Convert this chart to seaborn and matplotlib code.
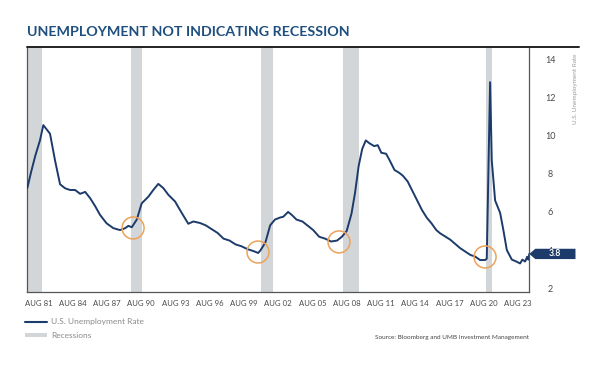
import numpy as np
import pandas as pd
import matplotlib
matplotlib.use("Agg")
import matplotlib.pyplot as plt
import seaborn as sns
from matplotlib.lines import Line2D
from matplotlib.patches import Patch, Polygon
import matplotlib.transforms as mtransforms

# ---------------- data ----------------
years = [1981.58, 1981.90, 1982.25, 1982.64, 1982.92, 1983.48, 1983.90, 1984.32, 1984.74,
         1985.16, 1985.58, 1986.00, 1986.42, 1986.84, 1987.26, 1987.66, 1988.22, 1988.78,
         1989.34, 1989.77, 1990.03, 1990.32, 1990.74, 1991.15, 1991.71, 1992.12, 1992.54,
         1992.96, 1993.38, 1993.94, 1994.50, 1995.05, 1995.47, 1996.03, 1996.50, 1997.00,
         1997.50, 1998.00, 1998.50, 1999.00, 1999.50, 2000.00, 2000.50, 2000.90, 2001.10,
         2001.50, 2001.90, 2002.30, 2002.70, 2003.00, 2003.40, 2003.70, 2004.10, 2004.60,
         2005.00, 2005.50, 2006.00, 2006.50, 2007.00, 2007.50, 2007.90, 2008.30, 2008.70,
         2009.00, 2009.30, 2009.60, 2009.90, 2010.20, 2010.60, 2010.90, 2011.20, 2011.60,
         2011.90, 2012.30, 2012.70, 2013.00, 2013.40, 2013.80, 2014.20, 2014.60, 2015.00,
         2015.40, 2015.80, 2016.12, 2016.96, 2017.80, 2018.64, 2019.05, 2019.46, 2019.88,
         2020.02, 2020.30, 2020.44, 2020.72, 2021.14, 2021.41, 2021.70, 2022.12, 2022.50,
         2022.81, 2023.00, 2023.23, 2023.40, 2023.50, 2023.58]
unemployment = [7.25, 8.10, 8.95, 9.75, 10.55, 10.10, 8.70, 7.45, 7.24,
                7.15, 7.15, 6.95, 7.05, 6.72, 6.30, 5.85, 5.40, 5.15,
                5.05, 5.15, 5.27, 5.20, 5.60, 6.45, 6.80, 7.15, 7.47,
                7.25, 6.90, 6.55, 5.95, 5.38, 5.50, 5.42, 5.30, 5.10,
                4.90, 4.60, 4.50, 4.30, 4.20, 4.05, 3.95, 3.85, 4.00,
                4.40, 5.30, 5.60, 5.70, 5.75, 6.00, 5.85, 5.60, 5.50,
                5.30, 5.05, 4.70, 4.60, 4.45, 4.50, 4.70, 5.00, 5.90,
                7.00, 8.40, 9.30, 9.75, 9.60, 9.45, 9.50, 9.10, 9.05,
                8.70, 8.20, 8.05, 7.90, 7.60, 7.10, 6.60, 6.10, 5.70,
                5.40, 5.05, 4.88, 4.55, 4.10, 3.75, 3.66, 3.48, 3.48,
                3.55, 12.80, 8.70, 6.60, 5.95, 5.05, 4.00, 3.50, 3.40,
                3.30, 3.50, 3.40, 3.65, 3.50, 3.80]
rec_start = [1981.66, 1990.26, 2001.16, 2008.02, 2019.97]
rec_end = [1982.79, 1991.17, 2002.17, 2009.36, 2020.44]
circle_years = [1990.43, 2000.88, 2007.66, 2019.88]
circle_values = [5.16, 3.90, 4.43, 3.64]
tick_labels = ["AUG 81", "AUG 84", "AUG 87", "AUG 90", "AUG 93", "AUG 96", "AUG 99",
               "AUG 02", "AUG 05", "AUG 08", "AUG 11", "AUG 14", "AUG 17", "AUG 20", "AUG 23"]
y_ticks = [2, 4, 6, 8, 10, 12, 14]
last_value = 3.8
title = "UNEMPLOYMENT NOT INDICATING RECESSION"
series_name = "U.S. Unemployment Rate"
recession_name = "Recessions"
source = "Source: Bloomberg and UMB Investment Management"

df = pd.DataFrame({"year": years, "rate": unemployment})
circles = pd.DataFrame({"year": circle_years, "rate": circle_values})

# ---------------- styling ----------------
sns.set_theme(style="white")
plt.rcParams["font.family"] = ["Lato", "DejaVu Sans"]

NAVY = "#1c3b6b"
TITLE_C = "#1f4f7e"
GRAY_REC = "#d3d6d8"
ORANGE = "#eba25a"
TXT = "#4a4a4a"

fig = plt.figure(figsize=(6, 3.67), dpi=100)
ax = fig.add_axes([27.3 / 600, 1 - 291.7 / 367, (529.3 - 27.3) / 600, (291.7 - 46.7) / 367])

xmin, xmax = 1981.58, 2023.58
ymin, ymax = 1.82, 14.66

for s, e in zip(rec_start, rec_end):
    ax.axvspan(s, e, color=GRAY_REC, lw=0, zorder=1)

sns.lineplot(data=df, x="year", y="rate", ax=ax, color=NAVY, lw=1.4, zorder=3, legend=False)
sns.scatterplot(data=circles, x="year", y="rate", ax=ax, s=250, marker="o",
                facecolor="none", edgecolor=ORANGE, linewidth=1.1, zorder=4, legend=False)

ax.set_xlim(xmin, xmax)
ax.set_ylim(ymin, ymax)
ax.set_xlabel("")
ax.set_ylabel("")

# x tick labels: evenly distributed across the frame
inset = 0.94
ax.set_xticks(np.linspace(xmin + inset, xmax - inset, len(tick_labels)))
ax.set_xticklabels(tick_labels, fontsize=5.6, color=TXT)
ax.tick_params(axis="x", length=0, pad=6)

ax.yaxis.tick_right()
ax.set_yticks(y_ticks)
ax.set_yticklabels([str(v) for v in y_ticks], fontsize=6.5, color=TXT)
ax.tick_params(axis="y", length=0, pad=15)
for lab in ax.get_yticklabels():
    lab.set_horizontalalignment("center")

for side in ["left", "bottom", "right"]:
    ax.spines[side].set_color("#555555")
    ax.spines[side].set_linewidth(0.9)
ax.spines["top"].set_visible(False)

# top rule extending over the right axis
fig.add_artist(Line2D([27.3 / 600, 579 / 600], [1 - 46.7 / 367] * 2, color="#222222", lw=1.4))

# value tag
trans = mtransforms.blended_transform_factory(ax.transAxes, ax.transData)
h = 0.27
poly = Polygon([[1.0, last_value], [1.012, last_value + h], [1.092, last_value + h],
                [1.092, last_value - h], [1.012, last_value - h]],
               closed=True, transform=trans, fc=NAVY, ec="none", clip_on=False, zorder=5)
ax.add_patch(poly)
ax.text(1.05, last_value, f"{last_value}", transform=trans, color="white", fontsize=6.3,
        fontweight="bold", ha="center", va="center", zorder=6)

# right axis label
fig.text(576 / 600, 1 - 54 / 367, series_name, rotation=90, ha="center", va="top",
         fontsize=4.6, color="#9a9a9a")

# title
fig.text(27 / 600, 1 - 32.5 / 367, title, fontsize=10.3, fontweight="bold", color=TITLE_C,
         ha="left", va="center")

# legend
handles = [Line2D([0], [0], color=NAVY, lw=1.5),
           Patch(facecolor=GRAY_REC, edgecolor="none")]
leg = fig.legend(handles, [series_name, recession_name], loc="upper left",
                 bbox_to_anchor=(22 / 600, 1 - 315 / 367), frameon=False, fontsize=6,
                 labelcolor="#8a8a8a", handlelength=2.6, handleheight=0.35,
                 labelspacing=0.75, handletextpad=0.5, borderaxespad=0)

fig.text(529 / 600, 1 - 338 / 367, source, fontsize=4.6, color="#444444", ha="right", va="center")

fig.savefig("out.png", dpi=100)
